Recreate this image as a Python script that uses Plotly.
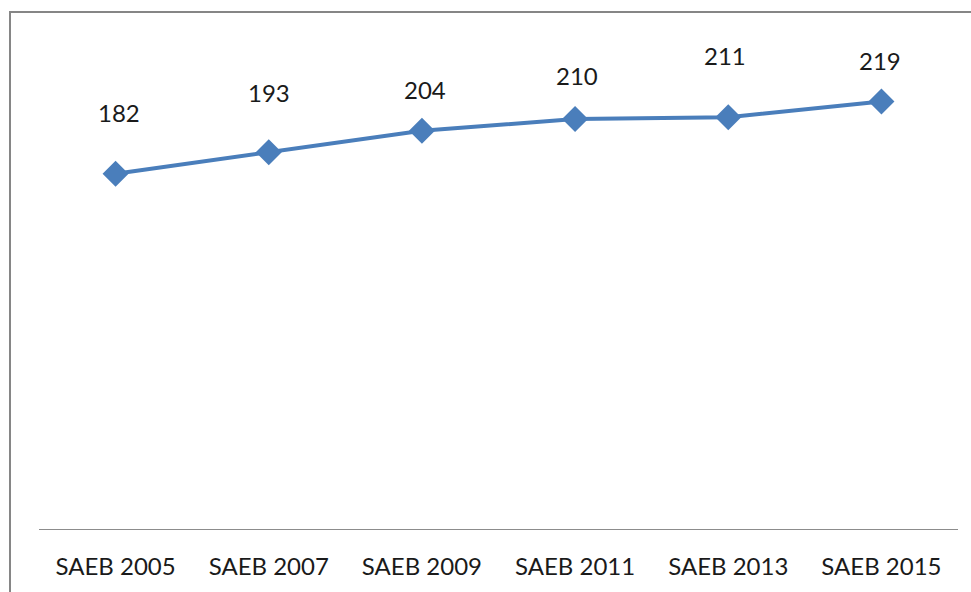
import plotly.graph_objects as go

categories = ["SAEB 2005", "SAEB 2007", "SAEB 2009", "SAEB 2011", "SAEB 2013", "SAEB 2015"]
scores = [182, 193, 204, 210, 211, 219]
label_text = ["182", "193", "204", "210", "211", "219"]
# per-label pixel offsets (label placement, style only)
label_yshift = [61, 60, 41, 44, 62, 41]
label_xshift = [3, 0, 3, 2, -3, -1]

W, H = 971, 592
ml, mr, mt, mb = 39, 13, 41, 63
pw, ph = W - ml - mr, H - mt - mb

FONT = "Lato, 'Open Sans', sans-serif"

fig = go.Figure()
fig.add_trace(go.Scatter(
    x=categories, y=scores, mode="lines+markers",
    line=dict(color="#4A7EBB", width=4),
    marker=dict(symbol="diamond", size=20, color="#4A7EBB"),
    hoverinfo="skip", showlegend=False,
))

for c, v, t, dy, dx in zip(categories, scores, label_text, label_yshift, label_xshift):
    fig.add_annotation(x=c, y=v, text=t, showarrow=False, yshift=dy, xshift=dx,
                       font=dict(family=FONT, size=24, color="#1a1a1a"))

# outer chart border
fig.add_shape(type="rect", xref="paper", yref="paper",
              x0=(10 - ml) / pw, x1=(W + 10 - ml) / pw,
              y0=(H - mb - (H + 10)) / ph, y1=(H - mb - 12) / ph,
              line=dict(color="#868686", width=2), fillcolor="rgba(0,0,0,0)", layer="below")

fig.update_layout(
    width=W, height=H,
    margin=dict(l=ml, r=mr, t=mt, b=mb),
    paper_bgcolor="white", plot_bgcolor="white",
    font=dict(family=FONT, size=24, color="#1a1a1a"),
    xaxis=dict(range=[-0.5, len(categories) - 0.5], showgrid=False, showline=True,
               linecolor="#8c8c8c", linewidth=1,
               ticks="", zeroline=False, ticklabelstandoff=16,
               tickfont=dict(family=FONT, size=24, color="#1a1a1a")),
    yaxis=dict(range=[0, 250], visible=False, showgrid=False, zeroline=False),
)

fig.write_html("out.html", config={"displayModeBar": False, "staticPlot": True},
               post_script="document.body.style.margin='0';document.body.style.overflow='hidden';")
